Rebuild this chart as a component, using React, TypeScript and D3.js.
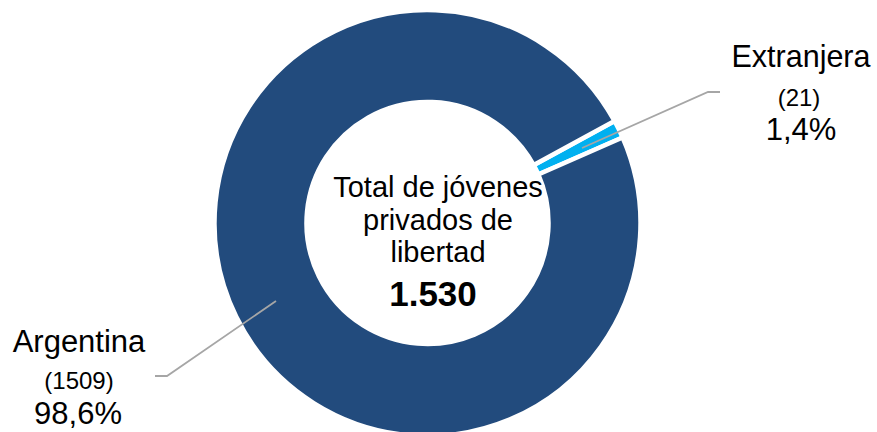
import React from "react";
import * as d3 from "d3";

const categories = ["Argentina", "Extranjera"];
const values = [1509, 21];
const percentLabels = ["98,6%", "1,4%"];
const countLabels = ["(1509)", "(21)"];
const centerLines = ["Total de jóvenes", "privados de", "libertad"];
const totalLabel = "1.530";
const colors = ["#224B7D", "#00B0F0"];

const W = 877;
const H = 432;
const cx = 427.5;
const cy = 223;
const outerR = 213;
const innerR = 121;
const startDeg = 61.4;

export default function App() {
  const data = categories.map((c, i) => ({ cat: c, value: values[i], i }));
  // Extranjera first so that it starts at startDeg, then Argentina continues clockwise
  const ordered = [data[1], data[0]];
  const pie = d3
    .pie<any>()
    .value((d) => d.value)
    .sort(null)
    .startAngle((startDeg * Math.PI) / 180)
    .endAngle(((startDeg + 360) * Math.PI) / 180);
  const arcs = pie(ordered);
  const arcGen = d3.arc<any>().innerRadius(innerR).outerRadius(outerR);

  const font = "Arial, 'Liberation Sans', sans-serif";

  return (
    <svg
      width={W}
      height={H}
      style={{ position: "absolute", left: 0, top: 0, background: "#fff" }}
      fontFamily={font}
    >
      <g transform={`translate(${cx},${cy})`}>
        {arcs.map((a) => (
          <path
            key={a.data.cat}
            d={arcGen(a) as string}
            fill={colors[a.data.i]}
            stroke="#fff"
            strokeWidth={4.5}
          />
        ))}
      </g>
      {/* leader lines */}
      <polyline
        points="582,148 708,92 720,92"
        fill="none"
        stroke="#A6A6A6"
        strokeWidth={1.8}
      />
      <polyline
        points="276,301 167,376 155,376"
        fill="none"
        stroke="#A6A6A6"
        strokeWidth={1.8}
      />
      {/* Extranjera label */}
      <g textAnchor="middle" fill="#000">
        <text x={801} y={67} fontSize={30.5}>
          {categories[1]}
        </text>
        <text x={799} y={106} fontSize={24}>
          {countLabels[1]}
        </text>
        <text x={801} y={140} fontSize={31}>
          {percentLabels[1]}
        </text>
      </g>
      {/* Argentina label */}
      <g textAnchor="middle" fill="#000">
        <text x={79} y={352} fontSize={31}>
          {categories[0]}
        </text>
        <text x={79} y={389} fontSize={24}>
          {countLabels[0]}
        </text>
        <text x={78} y={424} fontSize={31}>
          {percentLabels[0]}
        </text>
      </g>
      {/* center */}
      <g textAnchor="middle" fill="#000">
        {centerLines.map((l, i) => (
          <text key={l} x={438} y={197 + i * 32.5} fontSize={29}>
            {l}
          </text>
        ))}
        <text x={433} y={306} fontSize={35} fontWeight="bold">
          {totalLabel}
        </text>
      </g>
    </svg>
  );
}
